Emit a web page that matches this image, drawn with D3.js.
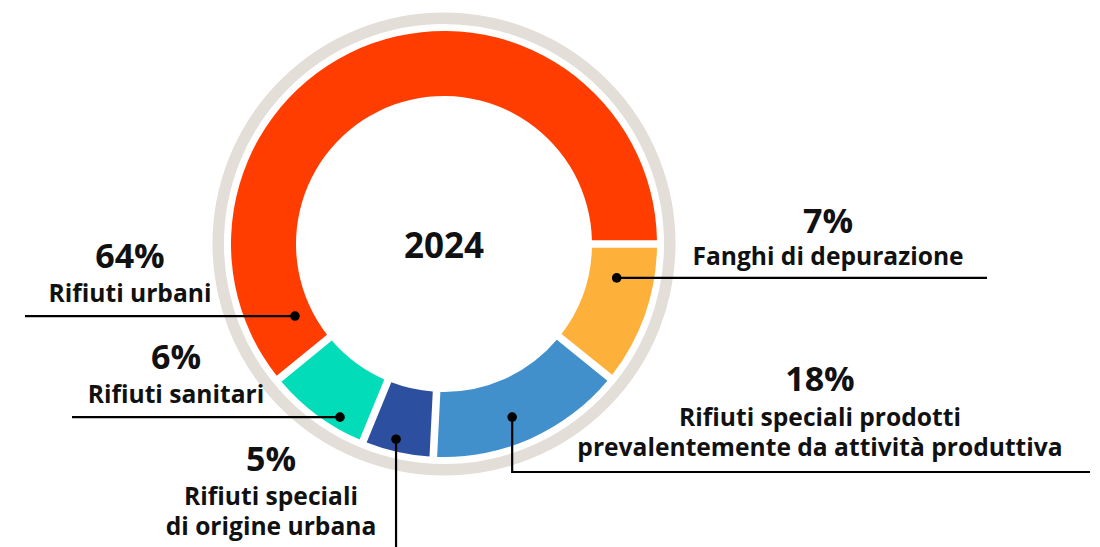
<!DOCTYPE html>
<html>
<head>
<meta charset="utf-8">
<script src="https://cdn.jsdelivr.net/npm/d3@7"></script>
<style>
  html, body { margin: 0; padding: 0; background: #ffffff; }
  svg { display: block; }
  text { font-family: "Open Sans", "DejaVu Sans", sans-serif; font-weight: 700; fill: #111; }
</style>
</head>
<body>
<svg id="chart" width="1100" height="547"></svg>
<script>
// ---------- data ----------
const yearLabel = "2024";
const categories = [
  "Fanghi di depurazione",
  "Rifiuti speciali prodotti prevalentemente da attività produttiva",
  "Rifiuti speciali di origine urbana",
  "Rifiuti sanitari",
  "Rifiuti urbani"
];
const nameLines = [
  ["Fanghi di depurazione"],
  ["Rifiuti speciali prodotti", "prevalentemente da attività produttiva"],
  ["Rifiuti speciali", "di origine urbana"],
  ["Rifiuti sanitari"],
  ["Rifiuti urbani"]
];
const percentLabels = ["7%", "18%", "5%", "6%", "64%"];
// share of the ring each slice occupies as drawn in the picture
const sliceShares = [10.8, 15.0, 5.4, 7.9, 60.9];
const sliceColors = ["#FDB13A", "#4190CB", "#2D4F9F", "#03DCB8", "#FF3D00"];

// ---------- layout ----------
const W = 1100, H = 547;
const cx = 444, cy = 244;
const rInner = 148, rOuter = 213;
const ringR = 225.8, ringW = 11.5;

// callout layout: dot angle (deg clockwise from 12 o'clock) and radius,
// leader type, and label placement
const callouts = [
  { angle: 101.1, r: 176, kind: "h", toX: 987, labelX: 828, pctY: 233, nameY: [265] },
  { angle: 158.5, r: 186, kind: "vh", downTo: 472, toX: 1090, labelX: 820, pctY: 391, nameY: [426, 456] },
  { angle: 193.8, r: 201, kind: "v", downTo: 547, labelX: 271, pctY: 471, nameY: [505, 535] },
  { angle: 211.0, r: 202, kind: "h", toX: 72, labelX: 176, pctY: 369, nameY: [403] },
  { angle: 244.2, r: 165.5, kind: "h", toX: 25, labelX: 130, pctY: 268, nameY: [302] }
];

const svg = d3.select("#chart");
const g = svg.append("g").attr("transform", `translate(${cx},${cy})`);

// outer gray ring
g.append("circle")
  .attr("r", ringR)
  .attr("fill", "none")
  .attr("stroke", "#E3DED8")
  .attr("stroke-width", ringW);

const pie = d3.pie()
  .sort(null)
  .value(d => d)
  .startAngle(Math.PI / 2)
  .endAngle(Math.PI / 2 + 2 * Math.PI);

const arc = d3.arc()
  .innerRadius(rInner)
  .outerRadius(rOuter)
  .padRadius(100)
  .padAngle(0.076);

const arcs = pie(sliceShares);

g.selectAll("path.slice")
  .data(arcs)
  .join("path")
  .attr("class", "slice")
  .attr("d", arc)
  .attr("fill", (d, i) => sliceColors[i]);

// year in the middle
g.append("text")
  .attr("x", 0)
  .attr("y", 258 - cy)
  .attr("text-anchor", "middle")
  .style("font-size", "35px")
  .text(yearLabel);

// callouts
const toRad = a => a * Math.PI / 180;
callouts.forEach((c, i) => {
  const [dx, dy] = d3.pointRadial(toRad(c.angle), c.r);
  const px = cx + dx, py = cy + dy;
  let pts;
  if (c.kind === "h") pts = [[px, py], [c.toX, py]];
  else if (c.kind === "v") pts = [[px, py], [px, c.downTo]];
  else pts = [[px, py], [px, c.downTo], [c.toX, c.downTo]];

  svg.append("path")
    .attr("d", d3.line()(pts))
    .attr("fill", "none")
    .attr("stroke", "#000")
    .attr("stroke-width", 2.2);

  svg.append("circle")
    .attr("cx", px).attr("cy", py)
    .attr("r", 4.8)
    .attr("fill", "#000");

  svg.append("text")
    .attr("x", c.labelX)
    .attr("y", c.pctY)
    .attr("text-anchor", "middle")
    .style("font-size", "34px")
    .text(percentLabels[i]);

  nameLines[i].forEach((line, j) => {
    svg.append("text")
      .attr("x", c.labelX)
      .attr("y", c.nameY[j])
      .attr("text-anchor", "middle")
      .style("font-size", "24.6px")
      .text(line);
  });
});
</script>
</body>
</html>
